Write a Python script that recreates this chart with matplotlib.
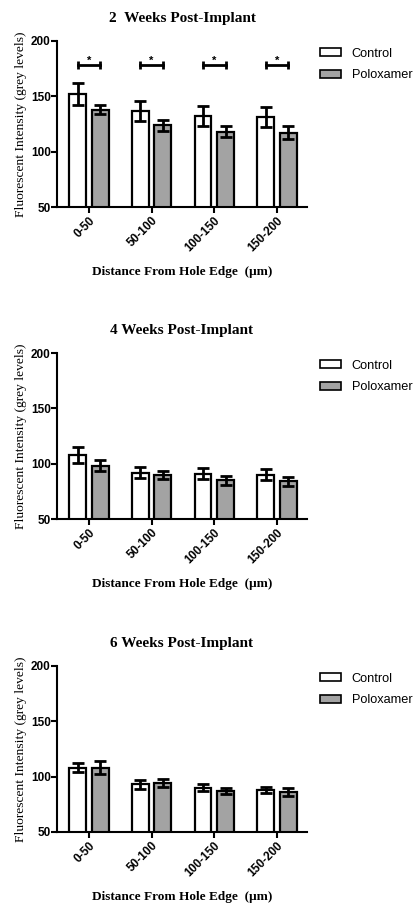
import matplotlib
matplotlib.use("Agg")
import matplotlib.pyplot as plt
import numpy as np
from matplotlib.patches import Patch

categories = ["0-50", "50-100", "100-150", "150-200"]
series_names = ["Control", "Poloxamer"]
titles = ["2  Weeks Post-Implant", "4 Weeks Post-Implant", "6 Weeks Post-Implant"]

control_2w = [152, 137, 132, 131]
control_2w_err = [10, 9, 9, 9]
polox_2w = [138, 124, 118, 117]
polox_2w_err = [4, 5, 5, 6]

control_4w = [108, 92, 91, 90]
control_4w_err = [7, 5, 5, 5]
polox_4w = [98, 90, 85, 84]
polox_4w_err = [5, 3.5, 4, 4]

control_6w = [108, 93, 90, 88]
control_6w_err = [4, 4, 3, 3]
polox_6w = [108, 94, 87, 86]
polox_6w_err = [6, 3.5, 3, 3.5]

sig_height_2w = [178, 178, 178, 178]

yticks = [50, 100, 150, 200]

panels = [
    (control_2w, control_2w_err, polox_2w, polox_2w_err, sig_height_2w),
    (control_4w, control_4w_err, polox_4w, polox_4w_err, None),
    (control_6w, control_6w_err, polox_6w, polox_6w_err, None),
]

W, H = 417, 906
fig = plt.figure(figsize=(W / 100, H / 100), dpi=100)

serif = ["Liberation Serif", "DejaVu Serif"]
sans = ["Liberation Sans", "DejaVu Sans"]

tops = [41, 353, 666]
bottoms = [207, 519, 832]
left, right = 57, 307

x = np.arange(len(categories))
bw = 0.27
off = 0.18
lw = 1.6

for i, (c, ce, p, pe, sig) in enumerate(panels):
    ax = fig.add_axes([left / W, 1 - bottoms[i] / H, (right - left) / W, (bottoms[i] - tops[i]) / H])
    ax.bar(x - off, c, bw, bottom=0, color="white", edgecolor="black", linewidth=lw, zorder=2)
    ax.bar(x + off, p, bw, bottom=0, color="#a3a3a3", edgecolor="black", linewidth=lw, zorder=2)
    ax.errorbar(x - off, c, yerr=ce, fmt="none", ecolor="black", elinewidth=2, capsize=4, capthick=2, zorder=3)
    ax.errorbar(x + off, p, yerr=pe, fmt="none", ecolor="black", elinewidth=2, capsize=4, capthick=2, zorder=3)
    if sig is not None:
        for xi, h in zip(x, sig):
            ax.errorbar([xi - off, xi + off], [h, h], yerr=3.5, fmt="none", ecolor="black",
                        elinewidth=2, capsize=0, zorder=3)
            ax.plot([xi - off, xi + off], [h, h], color="black", lw=2, zorder=3)
            ax.text(xi, h + 4.5, "*", ha="center", va="center", fontsize=8,
                    family=sans, fontweight="bold")
    ax.set_ylim(50, 200)
    ax.set_xlim(-0.51, 3.48)
    ax.set_yticks(yticks)
    ax.set_xticks(x)
    ax.set_xticklabels(categories, rotation=45, ha="right", rotation_mode="anchor",
                       family=sans, fontweight="bold", fontsize=8.5)
    for lab in ax.get_yticklabels():
        lab.set_family(sans)
        lab.set_fontweight("bold")
        lab.set_fontsize(8.5)
    for s in ["top", "right"]:
        ax.spines[s].set_visible(False)
    for s in ["left", "bottom"]:
        ax.spines[s].set_linewidth(1.5)
    ax.tick_params(axis="y", width=1.5, length=4, pad=0.5)
    ax.tick_params(axis="x", width=1.5, length=4, pad=1.5)
    ax.set_title(titles[i], family=serif, fontweight="bold", fontsize=11, pad=14)
    ax.set_ylabel("Fluorescent Intensity (grey levels)", family=serif, fontsize=9.7, labelpad=3)
    ax.set_xlabel("Distance From Hole Edge  (\u03bcm)", family=serif, fontweight="bold",
                  fontsize=9.5, labelpad=8.5)
    handles = [Patch(facecolor="white", edgecolor="black", linewidth=1.2),
               Patch(facecolor="#a3a3a3", edgecolor="black", linewidth=1.2)]
    ax.legend(handles, series_names, loc="upper left", bbox_to_anchor=(1.03, 0.99),
              frameon=False, prop={"family": sans, "size": 9.2},
              handlelength=1.7, handleheight=0.6, handletextpad=0.8, labelspacing=0.75,
              borderaxespad=0.0)

fig.savefig("out.png", dpi=100)
